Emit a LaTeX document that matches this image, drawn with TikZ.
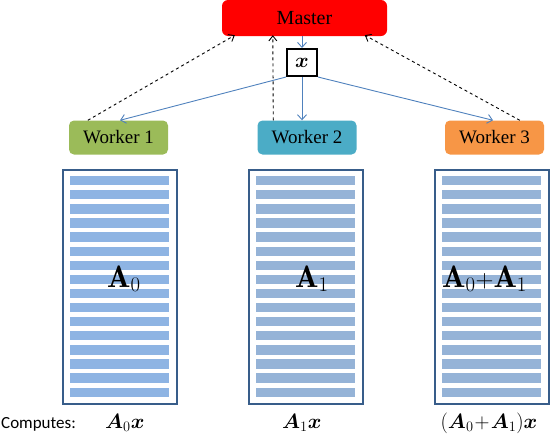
\documentclass[tikz,border=0pt]{standalone}
\usepackage{fontspec}
\usepackage{amsmath,bm}
\usetikzlibrary{calc,arrows.meta}
\newfontfamily\serifw{Liberation Serif}
\newfontfamily\calib{Carlito}
\definecolor{wgreen}{HTML}{9BBB59}
\definecolor{wteal}{HTML}{4BACC6}
\definecolor{worange}{HTML}{F79646}
\definecolor{mborder}{HTML}{385D8A}
\definecolor{stripeA}{HTML}{8EB4E3}
\definecolor{stripeB}{HTML}{95B3D7}
\definecolor{linkblue}{HTML}{4F81BD}
\begin{document}
\begin{tikzpicture}[x=1pt,y=-1pt,
  master/.style={fill=red, rounded corners=6pt, minimum width=165pt, minimum height=36pt, inner sep=0pt, font=\serifw\fontsize{20}{22}\selectfont},
  worker/.style={rounded corners=5pt, minimum width=99pt, minimum height=34pt, inner sep=0pt, font=\serifw\fontsize{19}{21}\selectfont},
  xbox/.style={draw=black, line width=2pt, minimum width=30pt, minimum height=27pt, inner sep=0pt, fill=white, font=\fontsize{20}{22}\selectfont},
  matbox/.style={draw=mborder, line width=2pt, minimum width=114pt, minimum height=234pt, inner sep=0pt},
  reply/.style={dashed, black, line width=0.9pt, -{Straight Barb[length=5pt,width=8pt]}},
  send/.style={linkblue, line width=0.9pt, -{Straight Barb[length=5pt,width=9pt]}},
  matlabel/.style={anchor=base west, inner sep=0pt, font=\fontsize{31}{33}\selectfont},
  comp/.style={anchor=base west, inner sep=0pt, font=\fontsize{21}{23}\selectfont}
]
\useasboundingbox (0,0) rectangle (554,434);

\node[master] (M) at (304.5,18) {Master};
\node[xbox] (X) at (302,62.5) {$\bm{x}$};

\node[worker, fill=wgreen] (W1) at (118.5,137.5) {Worker 1};
\node[worker, fill=wteal] (W2) at (307,137.5) {Worker 2};
\node[worker, fill=worange] (W3) at (494.5,137.5) {Worker 3};

\node[matbox] (M0) at (119.5,286.5) {};
\node[matbox] (M1) at (306,286.5) {};
\node[matbox] (M2) at (492,286.5) {};

\foreach \m/\c in {M0/stripeA, M1/stripeB, M2/stripeB}{
  \foreach \i in {0,...,15}{
    \fill[\c] ($(\m.north west)+(8,7.5+\i*14.1)$) rectangle ++(99,9.3);
  }
}

\node[matlabel] (L0) at (107,287) {$\bm{\mathrm{A}}_0$};
\node[matlabel] (L1) at (295,287) {$\bm{\mathrm{A}}_1$};
\node[matlabel] (L2) at (442,287) {$\bm{\mathrm{A}}_0{+}\bm{\mathrm{A}}_1$};

\node[anchor=base west, inner sep=0pt, font=\calib\fontsize{17}{19}\selectfont] (C) at (1,428) {Computes:};
\node[comp] (R0) at (105,428) {$\bm{A}_0\bm{x}$};
\node[comp] (R1) at (282,428) {$\bm{A}_1\bm{x}$};
\node[comp, anchor=base, font=\fontsize{20}{22}\selectfont] (R2) at (489,428) {\medmuskip=1mu$(\bm{A}_0+\bm{A}_1)\bm{x}$};

% replies (dashed)
\draw[reply] ($(W1.north west)+(19,0)$) -- ($(M.south west)+(13,-1)$);
\draw[reply] ($(W2.north west)+(16,0)$) -- ($(M.south west)+(51,-1)$);
\draw[reply] ($(W3.north west)+(75,0)$) -- ($(M.south west)+(143,-1)$);

% sends (blue)
\draw[send] (M.south -| X.north) -- (X.north);
\draw[send] (X.south) -- (X.south |- W2.north);
\draw[send] (X.south west) -- ($(W1.north)+(1.5,0)$);
\draw[send] (X.south east) -- ($(W3.north)+(-1.5,0)$);
\end{tikzpicture}
\end{document}
